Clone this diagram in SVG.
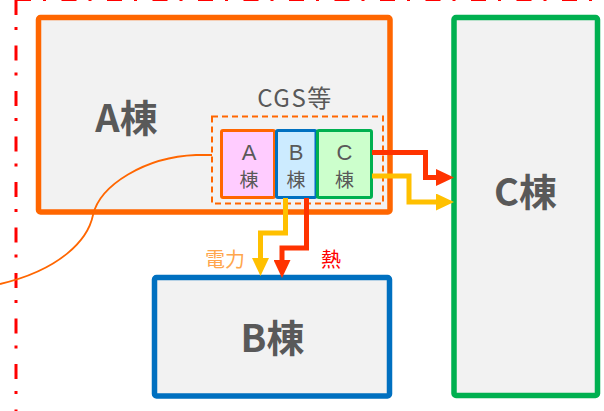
<svg xmlns="http://www.w3.org/2000/svg" width="604" height="411" viewBox="0 0 604 411">
  <style>
    .bld { fill: #F2F2F2; stroke-width: 5.5; }
    .big { font-family: "Noto Sans CJK JP", "Liberation Sans", sans-serif; font-weight: bold; font-size: 38px; fill: #595959; text-anchor: middle; }
    .let { font-family: "Liberation Sans", sans-serif; font-size: 22px; fill: #595959; text-anchor: middle; }
    .kan { font-family: "Noto Sans CJK JP", sans-serif; font-size: 19px; fill: #595959; text-anchor: middle; }
    .frame { fill: none; stroke: #FF0000; stroke-width: 3; stroke-dasharray: 15 12 3 15.5; }
    .conn { fill: none; stroke-width: 5; stroke-linejoin: miter; }
    .lbl { font-family: "Noto Sans CJK JP", "Liberation Sans", sans-serif; font-size: 20px; text-anchor: middle; }
  </style>
  <defs>
    <marker id="headR" markerUnits="userSpaceOnUse" markerWidth="18" markerHeight="17" refX="0" refY="8.5" orient="auto" viewBox="0 0 18 17">
      <path d="M0,0 L18,8.5 L0,17 z" fill="#FF3300"/>
    </marker>
    <marker id="headY" markerUnits="userSpaceOnUse" markerWidth="18" markerHeight="17" refX="0" refY="8.5" orient="auto" viewBox="0 0 18 17">
      <path d="M0,0 L18,8.5 L0,17 z" fill="#FFC000"/>
    </marker>
  </defs>
  <rect width="604" height="411" fill="#FFFFFF"/>

  <g id="frame">
    <path class="frame" d="M16,0 V411"/>
    <path class="frame" d="M16,-0.5 H604"/>
  </g>

  <g id="building-A">
    <rect class="bld" x="38.5" y="17.5" width="351.5" height="194.5" rx="2" stroke="#FF6600"/>
    <text class="big" x="126.5" y="132">A棟</text>
  </g>

  <g id="building-C">
    <rect class="bld" x="454" y="17.5" width="143.5" height="378" rx="2" stroke="#00B050"/>
    <text class="big" x="525.5" y="206">C棟</text>
  </g>

  <g id="building-B">
    <rect class="bld" x="154.5" y="277.5" width="235" height="118.5" rx="2" stroke="#0070C0"/>
    <text class="big" x="272.5" y="352">B棟</text>
  </g>

  <g id="cgs">
    <rect x="212" y="116.5" width="171" height="87" fill="none" stroke="#FF6600" stroke-width="2" stroke-dasharray="6 4"/>
    <text x="295" y="107" font-family="Noto Sans CJK JP, Liberation Sans, sans-serif" font-size="24" fill="#595959" text-anchor="middle" letter-spacing="1.5">CGS等</text>
  </g>

  <g id="cgs-A">
    <rect x="221.5" y="130.5" width="53" height="67" rx="1.5" fill="#FFCCFF" stroke="#FF6600" stroke-width="3"/>
    <text class="let" x="249" y="160">A</text>
    <text class="kan" x="249" y="186.5">棟</text>
  </g>
  <g id="cgs-B">
    <rect x="276.5" y="130.5" width="39.5" height="67" rx="1.5" fill="#CCEBFF" stroke="#0070C0" stroke-width="3"/>
    <text class="let" x="296" y="160">B</text>
    <text class="kan" x="296" y="186.5">棟</text>
  </g>
  <g id="cgs-C">
    <rect x="317.5" y="130.5" width="54" height="67" rx="1.5" fill="#CCFFCC" stroke="#00B050" stroke-width="3"/>
    <text class="let" x="344.5" y="160">C</text>
    <text class="kan" x="344.5" y="186.5">棟</text>
  </g>

  <g id="connectors">
    <path d="M212,155 H196 C145,157 100,185 93,215 C88,240 60,270 0,284" fill="none" stroke="#FF6600" stroke-width="1.8"/>
    <path class="conn" stroke="#FF3300" d="M372,152.5 H425.5 V177.5 H436" marker-end="url(#headR)"/>
    <path class="conn" stroke="#FFC000" d="M372,176 H409 V202 H436" marker-end="url(#headY)"/>
    <path class="conn" stroke="#FFC000" d="M285.5,198 V233 H260.5 V258" marker-end="url(#headY)"/>
    <path class="conn" stroke="#FF3300" d="M306.5,198 V248 H282 V260" marker-end="url(#headR)"/>
    <text class="lbl" x="225" y="266.5" fill="#FFA64D">電力</text>
    <text class="lbl" x="331" y="266.5" fill="#FF0000">熱</text>
  </g>
</svg>
